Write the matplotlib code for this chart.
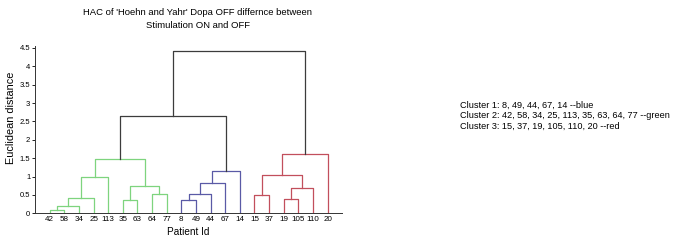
import matplotlib
matplotlib.use("Agg")
import matplotlib.pyplot as plt

plt.rcParams['font.family'] = ['Liberation Sans', 'DejaVu Sans']

# leaf order as shown on the x axis
leaves = ['42', '58', '34', '25', '113', '35', '63', '64', '77',
          '8', '49', '44', '67', '14',
          '15', '37', '19', '105', '110', '20']

# merges: name, left child, right child, link height, colour group
merge_names = ['g1', 'g2', 'g3', 'g4', 'g5', 'g6', 'g7', 'g8',
               'b1', 'b2', 'b3', 'b4',
               'r1', 'r2', 'r3', 'r4', 'r5',
               'k1', 'k2']
merge_left = ['42', 'g1', 'g2', 'g3', '35', '64', 'g5', 'g4',
              '8', 'b1', 'b2', 'b3',
              '15', '19', 'r2', 'r1', 'r4',
              'g8', 'k1']
merge_right = ['58', '34', '25', '113', '63', '77', 'g6', 'g7',
               '49', '44', '67', '14',
               '37', '105', '110', 'r3', '20',
               'b4', 'r5']
merge_height = [0.09, 0.20, 0.42, 0.98, 0.37, 0.54, 0.75, 1.49,
                0.35, 0.52, 0.82, 1.14,
                0.49, 0.40, 0.68, 1.04, 1.62,
                2.65, 4.42]
merge_group = ['green'] * 8 + ['blue'] * 4 + ['red'] * 5 + ['top'] * 2

colors = {'green': '#7ed47e', 'blue': '#5a5aa6', 'red': '#c24f5c', 'top': '#3c3c3c'}

legend_lines = ["Cluster 1: 8, 49, 44, 67, 14 --blue",
                "Cluster 2: 42, 58, 34, 25, 113, 35, 63, 64, 77 --green",
                "Cluster 3: 15, 37, 19, 105, 110, 20 --red"]

fig = plt.figure(figsize=(6.75, 2.4), dpi=100)
ax = fig.add_axes([0.052, 0.111, 0.455, 0.697])

# x position and height of every node
xpos = {name: i + 1 for i, name in enumerate(leaves)}
ypos = {name: 0.0 for name in leaves}
for name, l, r, h, g in zip(merge_names, merge_left, merge_right, merge_height, merge_group):
    xl, xr = xpos[l], xpos[r]
    ax.plot([xl, xl, xr, xr], [ypos[l], h, h, ypos[r]], color=colors[g], lw=0.9)
    xpos[name] = (xl + xr) / 2
    ypos[name] = h

ax.set_xlim(0, len(leaves) + 1)
ax.set_ylim(0, 4.55)
ax.set_xticks(range(1, len(leaves) + 1))
ax.set_xticklabels(leaves, fontsize=5.8)
ax.set_yticks([i * 0.5 for i in range(10)])
ax.set_yticklabels(['0', '0.5', '1', '1.5', '2', '2.5', '3', '3.5', '4', '4.5'], fontsize=5.5)
ax.tick_params(axis='x', length=0, pad=2)
ax.tick_params(axis='y', direction='out', length=2, width=0.6, pad=1.5)
for s in ['top', 'right']:
    ax.spines[s].set_visible(False)
for s in ['left', 'bottom']:
    ax.spines[s].set_linewidth(0.7)
    ax.spines[s].set_color('#333333')

ax.set_title("HAC of 'Hoehn and Yahr' Dopa OFF differnce between\nStimulation ON and OFF",
             fontsize=6.8, pad=13, linespacing=1.55, x=0.53)
ax.set_ylabel('Euclidean distance', fontsize=7.8)
ax.yaxis.set_label_coords(-0.062, 0.57)
ax.set_xlabel('Patient Id', fontsize=7.2, labelpad=3)

for i, line in enumerate(legend_lines):
    fig.text(460 / 675, 1 - (105 + i * 10.5) / 240, line, fontsize=6.6, va='center', ha='left')

fig.savefig('out.png', dpi=100)
